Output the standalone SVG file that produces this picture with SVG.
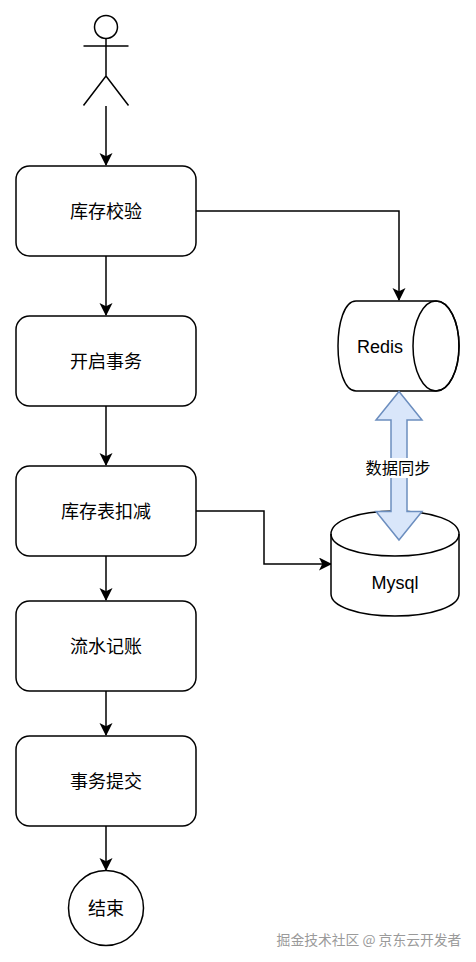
<svg xmlns="http://www.w3.org/2000/svg" width="476" height="962" viewBox="0 0 476 962">
<defs>
<marker id="arr" markerUnits="userSpaceOnUse" markerWidth="14" markerHeight="14" refX="12" refY="6.5" orient="auto"><path d="M0 0L13 6.5L0 13L3.2 6.5Z" fill="#000"/></marker>
</defs>
<style>
.s{fill:#fff;stroke:#000;stroke-width:1.5}
.l{fill:none;stroke:#000;stroke-width:1.5}
.t{font-family:"Noto Sans CJK SC","Liberation Sans",sans-serif;font-size:18px;text-anchor:middle;fill:#000}
.e{font-family:"Liberation Sans",sans-serif;font-size:18px;text-anchor:middle;fill:#000}
</style>
<rect width="476" height="962" fill="#fff"/>
<g id="connectors">
<path class="l" marker-end="url(#arr)" d="M106 106V165"/>
<path class="l" marker-end="url(#arr)" d="M106 256V315"/>
<path class="l" marker-end="url(#arr)" d="M106 406V465"/>
<path class="l" marker-end="url(#arr)" d="M106 556V600"/>
<path class="l" marker-end="url(#arr)" d="M106 691V735"/>
<path class="l" marker-end="url(#arr)" d="M106 826V870"/>
<path class="l" marker-end="url(#arr)" d="M196 211H399V300"/>
<path class="l" marker-end="url(#arr)" d="M196 511H264V564H331"/>
</g>
<g id="actor" class="l">
<circle class="l" cx="106" cy="27" r="11.5"/>
<path class="l" d="M106 38.500V76M83.500 46H128.500M83.500 105.500L106 76L128.500 105.500"/>
</g>
<g id="n1"><rect class="s" x="16" y="166" width="180" height="90" rx="13.500"/><text class="t" x="106" y="218">库存校验</text></g>
<g id="n2"><rect class="s" x="16" y="316" width="180" height="90" rx="13.500"/><text class="t" x="106" y="368">开启事务</text></g>
<g id="n3"><rect class="s" x="16" y="466" width="180" height="90" rx="13.500"/><text class="t" x="106" y="518">库存表扣减</text></g>
<g id="n4"><rect class="s" x="16" y="601" width="180" height="90" rx="13.500"/><text class="t" x="106" y="653">流水记账</text></g>
<g id="n5"><rect class="s" x="16" y="736" width="180" height="90" rx="13.500"/><text class="t" x="106" y="788">事务提交</text></g>
<g id="end"><circle class="s" cx="106" cy="908" r="37.500"/><text class="t" x="106" y="915">结束</text></g>
<g id="redis">
<path class="s" d="M356 301H436C449 301 459 321 459 346C459 371 449 391 436 391H356C344 391 338 368 338 346C338 324 344 301 356 301Z"/>
<ellipse class="l" cx="436" cy="346" rx="23" ry="45"/>
<text class="e" x="380" y="352.500">Redis</text>
</g>
<g id="mysql">
<path class="s" d="M331 534C331 521 357 511 395 511C433 511 459 521 459 534V594C459 606 433 616 395 616C357 616 331 606 331 594Z"/>
<path class="l" d="M331 534C331 546 357 556 395 556C433 556 459 546 459 534"/>
<text class="e" x="395" y="589">Mysql</text>
</g>
<g id="sync">
<path fill="#d9e6fa" stroke="#6c8ebf" stroke-width="1.500" d="M399 391.500L422 420H407V511.500H422L399 540L376 511.500H391V420H376Z"/>
<rect x="364" y="458" width="68" height="20" fill="#fff"/>
<text class="t" style="font-size:16.3px" x="398" y="473.500">数据同步</text>
</g>
<text x="369" y="945" font-family="'Noto Sans CJK SC',sans-serif" font-size="13.800" text-anchor="middle" fill="#9a9a9a">掘金技术社区 @ 京东云开发者</text>
</svg>
